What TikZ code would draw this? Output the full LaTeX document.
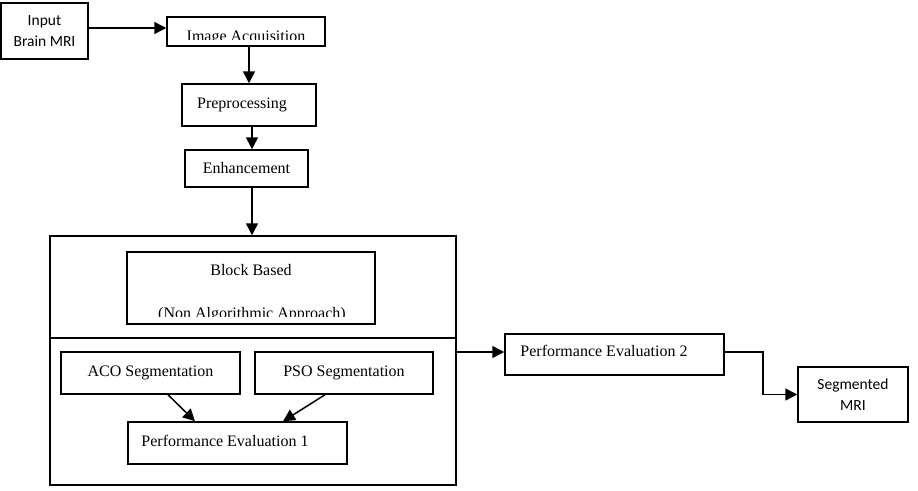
\documentclass[tikz,border=0pt]{standalone}
\usepackage{fontspec}
\setmainfont{Liberation Serif}
\newfontfamily\calibsans{Carlito}
\usetikzlibrary{arrows.meta}
\tikzset{
  box/.style={draw, line width=1.5pt, inner sep=0pt, align=center,
    font=\fontsize{16}{20}\selectfont},
  sbox/.style={box, font=\calibsans\fontsize{15.5}{21}\selectfont},
  txt/.style={inner sep=0pt, font=\fontsize{16}{20}\selectfont},
  arr/.style={line width=1.5pt, -{Triangle[length=12pt,width=12pt]}},
  ln/.style={line width=1.5pt}
}
\begin{document}
\begin{tikzpicture}[x=1pt,y=-1pt]
\useasboundingbox (0,0) rectangle (918,490);
% boxes
\node[sbox, minimum width=87pt, minimum height=56pt] (inp) at (44.5,31) {Input\\Brain MRI};
\node[box, minimum width=158pt, minimum height=29pt] (ia) at (246,31.5) {};
\node[box, minimum width=134pt, minimum height=42pt] (pre) at (249,105) {\hspace*{-14pt}Preprocessing};
\node[box, minimum width=123pt, minimum height=37pt] (enh) at (246.5,168.5) {Enhancement};
\node[box, minimum width=406pt, minimum height=249pt] (big) at (253,360.5) {};
\node[box, minimum width=248pt, minimum height=72pt] (blk) at (251,288) {};
\node[box, minimum width=179pt, minimum height=42pt] (aco) at (150.5,373) {ACO Segmentation};
\node[box, minimum width=178pt, minimum height=42pt] (pso) at (344,373) {PSO Segmentation};
\node[box, minimum width=219pt, minimum height=42pt] (pe1) at (237.5,443) {};
\node[box, minimum width=219pt, minimum height=41pt] (pe2) at (614.5,354.5) {};
\node[sbox, minimum width=110pt, minimum height=55pt] (seg) at (853,394.5) {Segmented\\MRI};
% texts
\begin{scope}
  \clip (168,18) rectangle (324,39.5);
  \node[txt, anchor=base] (iat) at (246,41.5) {Image Acquisition};
\end{scope}
\node[txt] (blkt) at (251,270) {Block Based};
\begin{scope}
  \clip (128,300) rectangle (374,316);
  \node[txt, anchor=base] (blkt2) at (252,318) {(Non Algorithmic Approach)};
\end{scope}
\node[txt] (pe1t) at (225,441) {Performance Evaluation 1};
\node[txt] (pe2t) at (604,351) {Performance Evaluation 2};
% divider
\draw[ln] ([yshift=22.5pt]big.west) -- ([yshift=22.5pt]big.east);
% connectors
\draw[arr] ([yshift=3pt]inp.east) -- ([yshift=3pt]inp.east -| ia.west);
\draw[arr] ([xshift=3pt]ia.south) -- ([xshift=3pt]ia.south |- pre.north);
\draw[arr] ([xshift=3pt]pre.south) -- ([xshift=3pt]pre.south |- enh.north);
\draw[arr] ([xshift=5.5pt]enh.south) -- ([xshift=5.5pt]enh.south |- big.north);
\draw[arr] ([xshift=17.5pt]aco.south) -- ([xshift=-42.5pt]pe1.north);
\draw[arr] ([xshift=-19pt]pso.south) -- ([xshift=45.5pt]pe1.north);
\draw[arr] ([yshift=2.5pt]big.east |- pe2.west) -- ([yshift=2.5pt]pe2.west);
\coordinate (bend) at ([xshift=38pt,yshift=2.5pt]pe2.east);
\draw[arr] ([yshift=2.5pt]pe2.east) -- (bend) |- (seg.west);
\end{tikzpicture}
\end{document}
